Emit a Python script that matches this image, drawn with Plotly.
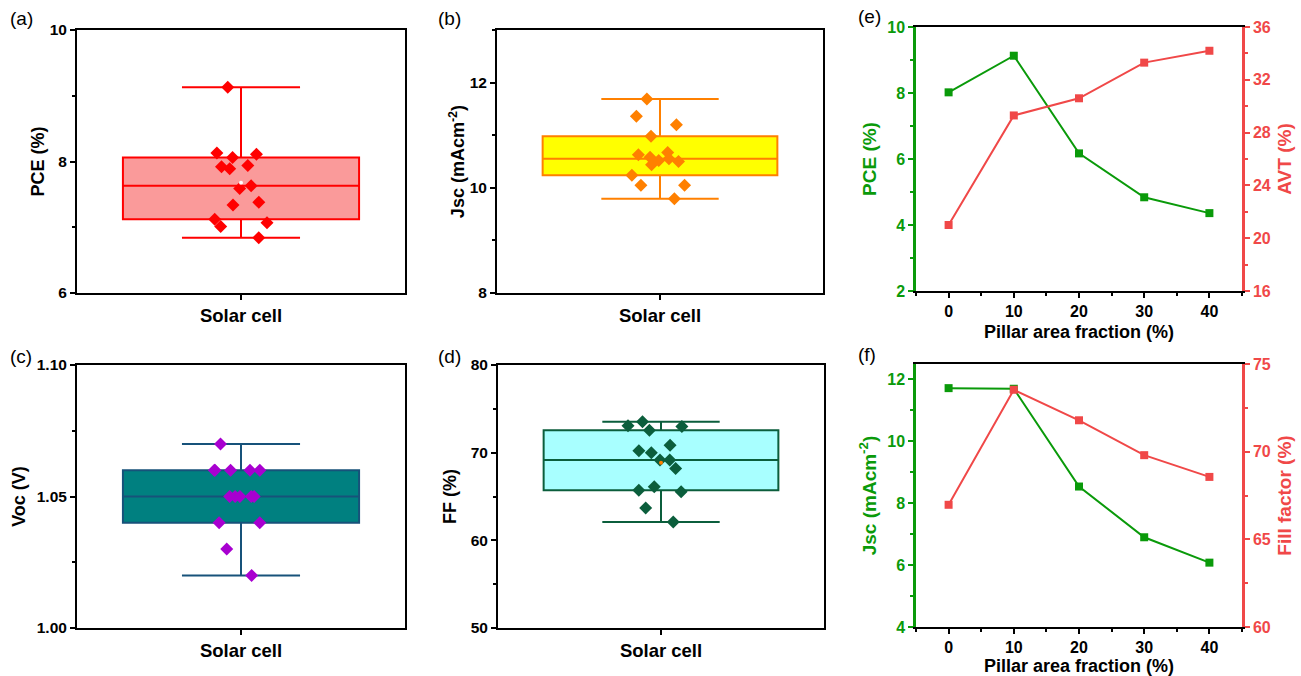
import plotly.graph_objects as go
import numpy as np

# ---------------- data ----------------
category = ["Solar cell"]
pce = [9.13, 8.13, 8.11, 8.06, 7.94, 7.92, 7.89, 7.63, 7.59, 7.38, 7.34, 7.12, 7.07, 7.01, 6.84]
jsc = [11.69, 11.36, 11.20, 10.98, 10.67, 10.63, 10.58, 10.55, 10.52, 10.50, 10.44, 10.24, 10.05, 10.05, 9.79]
voc = [1.07, 1.06, 1.06, 1.06, 1.06, 1.06, 1.05, 1.05, 1.05, 1.05, 1.05, 1.04, 1.04, 1.03, 1.02]
ff = [73.53, 73.07, 72.99, 72.57, 70.86, 70.21, 69.98, 69.15, 69.15, 68.20, 66.10, 65.72, 65.53, 63.70, 62.10]

fraction = [0, 10, 20, 30, 40]
pce_frac = [8.02, 9.13, 6.17, 4.84, 4.36]
avt_frac = [21.0, 29.3, 30.6, 33.3, 34.2]
jsc_frac = [11.72, 11.70, 8.54, 6.90, 6.08]
ff_frac = [66.97, 73.53, 71.79, 69.80, 68.56]

FONT = "Liberation Sans, Arial, sans-serif"
GREEN = "#0A9A0A"
RED = "#F04848"

fig = go.Figure()

# ---------------- box panels ----------------
boxes = [
    # values, line, fill, point, mean colour, axis suffix
    (pce, "#FF0000", "#FA9A9A", "#FF0000", "white", ""),
    (jsc, "#FF8000", "#FFFF00", "#FF8000", None, "2"),
    (voc, "#17527A", "#008080", "#A800D0", None, "3"),
    (ff, "#0B5E3C", "#A8FFFF", "#0B5E3C", "#FF8000", "4"),
]
for vals, lc, fc, pc, mc, s in boxes:
    fig.add_trace(go.Box(
        y=vals, x=category * len(vals), name="Solar cell",
        xaxis="x" + s, yaxis="y" + s,
        quartilemethod="exclusive",
        boxpoints="all", jitter=0.3, pointpos=0,
        width=0.72, whiskerwidth=0.5,
        line=dict(color=lc, width=2), fillcolor=fc,
        marker=dict(symbol="diamond", size=10, color=pc, line=dict(width=0)),
        showlegend=False, hoverinfo="y",
    ))
    if mc:
        fig.add_trace(go.Scatter(
            x=category, y=[float(np.mean(vals))], mode="markers",
            xaxis="x" + s, yaxis="y" + s,
            marker=dict(size=4, color=mc, line=dict(width=0)),
            showlegend=False,
        ))

# ---------------- line panels ----------------
fig.add_trace(go.Scatter(x=fraction, y=pce_frac, xaxis="x5", yaxis="y5",
                         mode="lines+markers", line=dict(color=GREEN, width=2),
                         marker=dict(symbol="square", size=8, color=GREEN), showlegend=False))
fig.add_trace(go.Scatter(x=fraction, y=avt_frac, xaxis="x5", yaxis="y7",
                         mode="lines+markers", line=dict(color=RED, width=2),
                         marker=dict(symbol="square", size=8, color=RED), showlegend=False))
fig.add_trace(go.Scatter(x=fraction, y=jsc_frac, xaxis="x6", yaxis="y6",
                         mode="lines+markers", line=dict(color=GREEN, width=2),
                         marker=dict(symbol="square", size=8, color=GREEN), showlegend=False))
fig.add_trace(go.Scatter(x=fraction, y=ff_frac, xaxis="x6", yaxis="y8",
                         mode="lines+markers", line=dict(color=RED, width=2),
                         marker=dict(symbol="square", size=8, color=RED), showlegend=False))

# ---------------- axes ----------------
def px(v):
    return v / 1301


def py(v):
    return 1 - v / 676


tickfont = dict(family=FONT, size=15.5, color="black", weight="bold")
titlefont = dict(family=FONT, size=18, color="black", weight="bold")


def xbox(dom, anchor):
    return dict(domain=dom, anchor=anchor, type="category", range=[-0.5, 0.5],
                showline=True, linecolor="black", linewidth=2, mirror=True,
                ticks="outside", ticklen=5, tickwidth=1.5, tickcolor="black",
                tickfont=dict(family=FONT, size=18.5, color="black", weight="bold"),
                showgrid=False, zeroline=False, fixedrange=True, automargin=False)


def ybox(dom, anchor, rng, dtick, title, standoff, fmt=None):
    d = dict(domain=dom, anchor=anchor, range=rng, dtick=dtick, tick0=rng[0],
             showline=True, linecolor="black", linewidth=2, mirror=True,
             ticks="outside", ticklen=5, tickwidth=1.5, tickcolor="black",
             minor=dict(ticks="outside", ticklen=3, dtick=dtick / 2, tickcolor="black", tickwidth=1.5),
             tickfont=tickfont, showgrid=False, zeroline=False, automargin=False,
             title=dict(text=title, font=titlefont, standoff=standoff))
    if fmt:
        d["tickformat"] = fmt
    return d


xa = [px(77), px(405)]
xb = [px(497), px(823)]
ytop = [py(293), py(30)]
ybot = [py(628), py(365)]
xe = [px(916), px(1242)]
ye = [py(291), py(27)]
yf = [py(627), py(364)]

fig.update_layout(
    xaxis=xbox(xa, "y"),
    yaxis=ybox(ytop, "x", [6, 10], 2, "PCE (%)", 0),
    xaxis2=xbox(xb, "y2"),
    yaxis2=ybox(ytop, "x2", [8, 13], 2, "Jsc (mAcm<sup>-2</sup>)", 0),
    xaxis3=xbox(xa, "y3"),
    yaxis3=ybox(ybot, "x3", [1.0, 1.1], 0.05, "Voc (V)", 6, ".2f"),
    xaxis4=xbox([px(498), px(824)], "y4"),
    yaxis4=ybox(ybot, "x4", [50, 80], 10, "FF (%)", 9),
)


def xline(dom, anchor):
    return dict(domain=dom, anchor=anchor, range=[-5, 45], dtick=10, tick0=0,
                showline=True, linecolor="black", linewidth=2, mirror=True,
                ticks="outside", ticklen=5, tickwidth=1.5, tickcolor="black",
                minor=dict(ticks="outside", ticklen=3, dtick=5, tick0=0, tickcolor="black", tickwidth=1.5),
                tickfont=dict(family=FONT, size=16, color="black", weight="bold"),
                showgrid=False, zeroline=False, automargin=False,
                title=dict(text="Pillar area fraction (%)", standoff=6,
                           font=dict(family=FONT, size=18, color="black", weight="bold")))


def yline(dom, anchor, rng, dtick, title, color, side="left", overlay=None, standoff=8):
    d = dict(domain=dom, anchor=anchor, range=rng, dtick=dtick, tick0=rng[0], side=side,
             showline=True, linecolor=color, linewidth=2.5,
             ticks="outside", ticklen=5, tickwidth=1.5, tickcolor=color,
             minor=dict(ticks="outside", ticklen=3, dtick=dtick / 2, tickcolor=color, tickwidth=1.5),
             tickfont=dict(family=FONT, size=16, color=color, weight="bold"),
             showgrid=False, zeroline=False, automargin=False,
             title=dict(text=title, standoff=standoff,
                        font=dict(family=FONT, size=19, color=color, weight="bold")))
    if overlay:
        d["overlaying"] = overlay
    return d


fig.update_layout(
    xaxis5=xline(xe, "y5"),
    yaxis5=yline(ye, "x5", [2, 10], 2, "PCE (%)", GREEN, standoff=6),
    yaxis7=yline(ye, "x5", [16, 36], 4, "AVT (%)", RED, side="right", overlay="y5"),
    xaxis6=xline(xe, "y6"),
    yaxis6=yline(yf, "x6", [4, 12.5], 2, "Jsc (mAcm<sup>-2</sup>)", GREEN, standoff=6),
    yaxis8=yline(yf, "x6", [60, 75], 5, "Fill factor (%)", RED, side="right", overlay="y6"),
)

# panel labels
labels = [("(a)", 8, 19), ("(b)", 436, 19), ("(c)", 8, 356), ("(d)", 436, 356),
          ("(e)", 856, 17), ("(f)", 856, 354)]
for t, x, y in labels:
    fig.add_annotation(text=t, x=px(x), y=py(y), xref="paper", yref="paper",
                       xanchor="left", yanchor="middle", showarrow=False,
                       font=dict(family=FONT, size=19, color="black"))

fig.update_layout(
    width=1301, height=676,
    margin=dict(l=0, r=0, t=0, b=0),
    paper_bgcolor="white", plot_bgcolor="white",
    font=dict(family=FONT),
    showlegend=False,
)

fig.write_html("out.html")
